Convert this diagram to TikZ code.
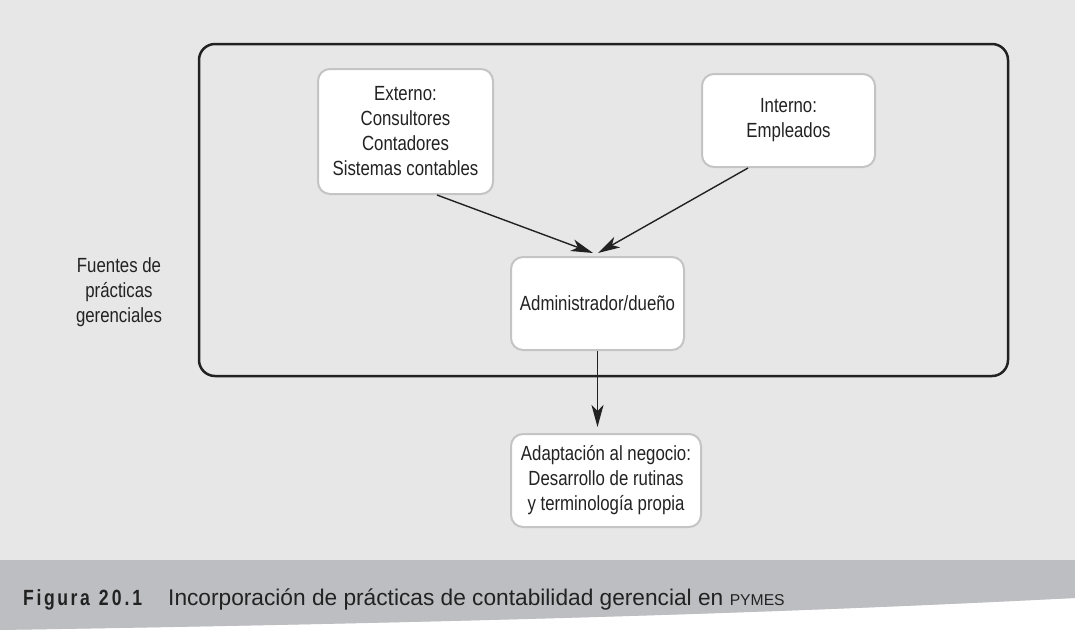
\documentclass[tikz,border=0pt]{standalone}
\usepackage{fontspec}
\setmainfont{Liberation Sans}
\newfontfamily\condfont{Liberation Sans}[FakeStretch=0.82]
\newfontfamily\figfont{Liberation Sans}[FakeStretch=0.8]
\usetikzlibrary{arrows.meta}
\definecolor{bgc}{RGB}{231,231,231}
\definecolor{bandc}{RGB}{189,190,194}
\definecolor{boxline}{RGB}{196,196,198}
\definecolor{txt}{RGB}{34,34,34}
\tikzset{
  box/.style={draw=boxline, line width=2pt, fill=white, rounded corners=12pt,
    align=center, font=\condfont\fontsize{20.5}{25}\selectfont, text=txt, inner sep=0pt},
  conn/.style={draw=txt, line width=1.4pt, -{Stealth[length=22pt,width=12pt,inset=6pt]}},
}
\begin{document}
\begin{tikzpicture}[x=1pt,y=-1pt]
\useasboundingbox (0,0) rectangle (1075,630);
% background
\fill[bgc] (0,0) rectangle (1075,630);
\fill[white] (0,630) .. controls (500,622) and (800,612) .. (1075,598) -- (1075,630) -- cycle;
\fill[bandc] (0,560) -- (1075,560) -- (1075,598) .. controls (800,612) and (500,622) .. (0,630) -- cycle;
% frame
\node[draw=txt, line width=2.5pt, rounded corners=16pt, minimum width=809pt, minimum height=332pt, inner sep=0pt] (frame) at (603.5,210) {};
% label
\node[align=center, font=\condfont\fontsize{20.5}{25}\selectfont, text=txt] (fuentes) at (119,292) {Fuentes de\\prácticas\\gerenciales};
% boxes
\node[box, minimum width=175pt, minimum height=125pt] (ext) at (405.5,131.5) {Externo:\\Consultores\\Contadores\\Sistemas contables};
\node[box, minimum width=173pt, minimum height=93pt] (int) at (788.5,120.5) {Interno:\\Empleados};
\node[box, minimum width=173pt, minimum height=93pt] (adm) at (597.5,303.5) {Administrador/dueño};
\node[box, minimum width=190pt, minimum height=93pt] (ada) at (606,480.5) {Adaptación al negocio:\\Desarrollo de rutinas\\y terminología propia};
% connectors
\coordinate (t1) at (593,253);
\coordinate (t2) at (598,253);
\draw[conn] ([xshift=31.5pt]ext.south) -- (t1);
\draw[conn] ([xshift=-40.5pt]int.south) -- (t2);
\coordinate (t3) at (597.5,427);
\draw[conn] (adm.south) -- (t3);
% caption
\node[anchor=base west, inner sep=0pt, text=txt, font=\figfont\bfseries\fontsize{22}{26}\selectfont] (fig) at (23,605)
  {F\kern2.6pt i\kern2.6pt g\kern2.6pt u\kern2.6pt r\kern2.6pt a\kern9pt 2\kern3pt 0\kern3pt .\kern3pt 1};
\node[anchor=base west, inner sep=0pt, text=txt, font=\fontsize{22.7}{27}\selectfont] (cap) at (168,605)
  {Incorporación de prácticas de contabilidad gerencial en {\fontsize{15.7}{19}\selectfont PYMES}};
\end{tikzpicture}
\end{document}
